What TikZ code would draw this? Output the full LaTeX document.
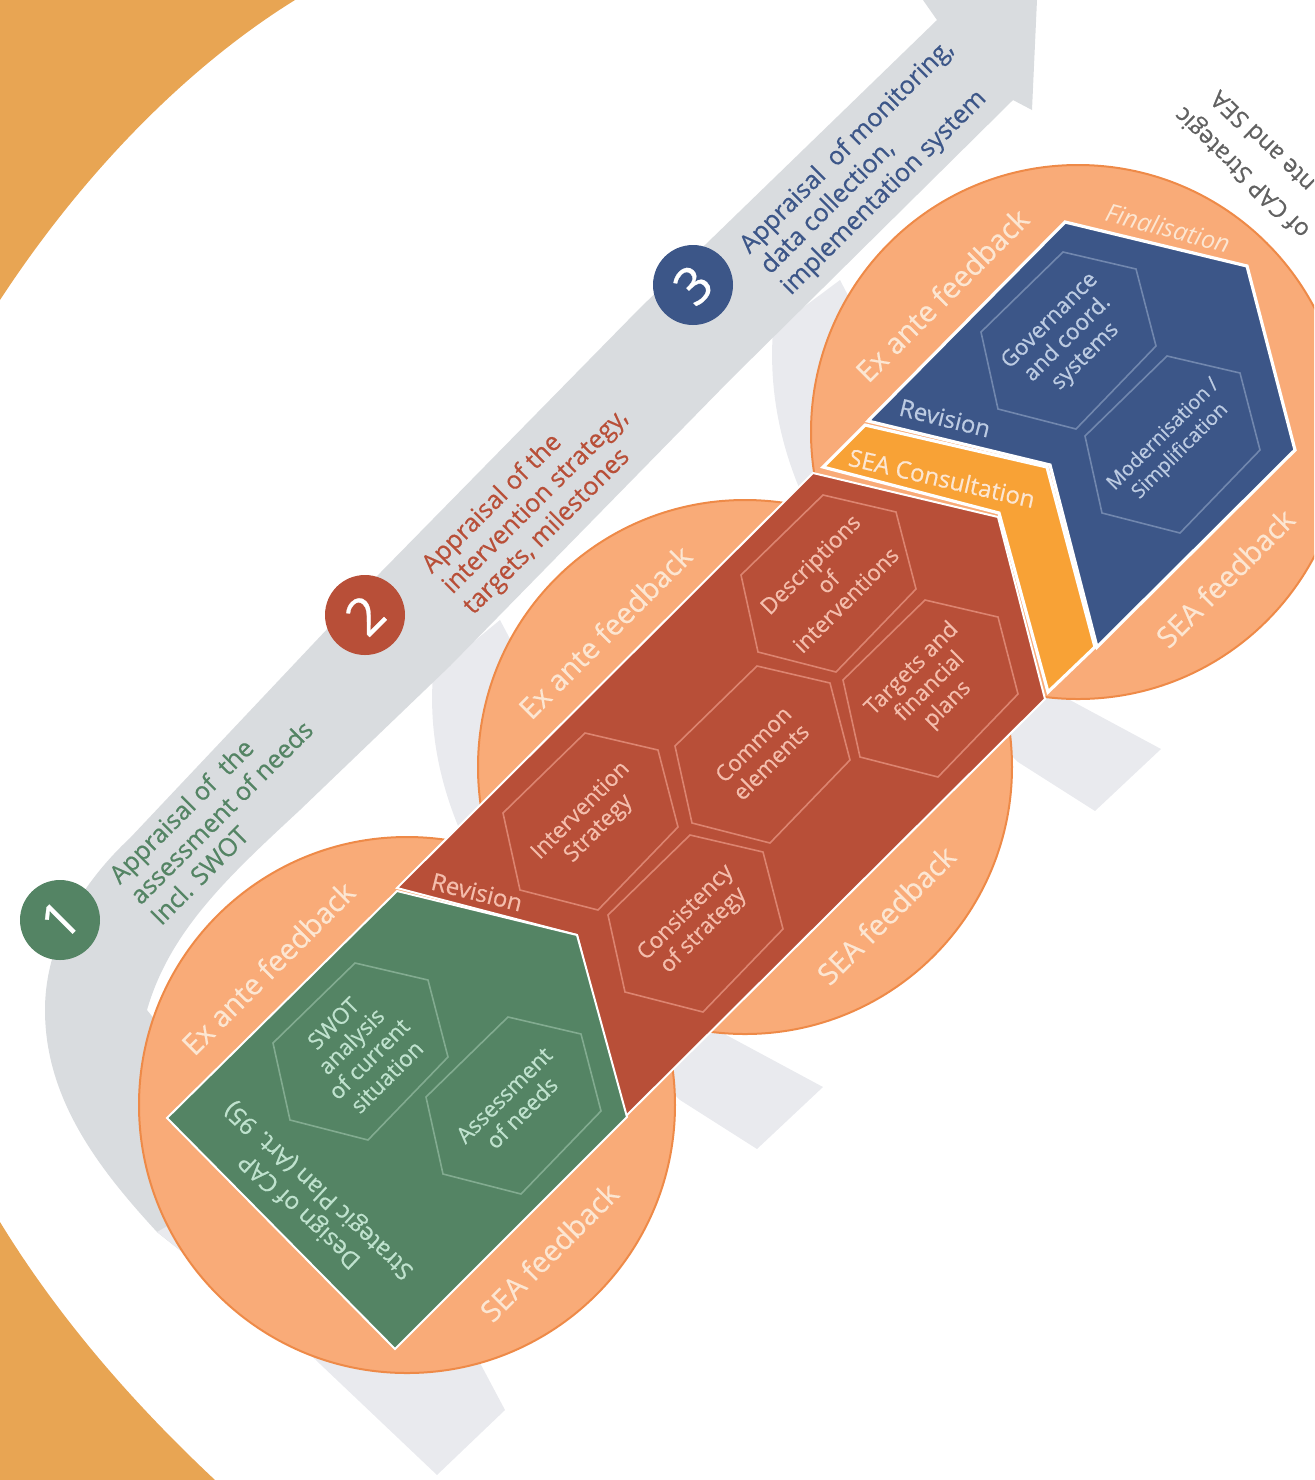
\documentclass[tikz,border=0pt]{standalone}
\usepackage{fontspec}
\setmainfont{Open Sans}
\newfontfamily\medf[FakeBold=0.5]{Open Sans}
\definecolor{bgor}{HTML}{E8A553}
\definecolor{band}{HTML}{D9DCDF}
\definecolor{bandl}{HTML}{E9EAEE}
\definecolor{circf}{HTML}{F9AB78}
\definecolor{circd}{HTML}{EE8A48}
\definecolor{grn}{HTML}{548464}
\definecolor{rd}{HTML}{B84F38}
\definecolor{blu}{HTML}{3C5688}
\definecolor{org}{HTML}{F8A236}
\definecolor{grnl}{HTML}{BFE2CE}
\definecolor{rdl}{HTML}{F4BDAC}
\definecolor{blul}{HTML}{BCCBE2}
\definecolor{grnh}{HTML}{82AB90}
\definecolor{rdh}{HTML}{DC8470}
\definecolor{bluh}{HTML}{7187AE}
\definecolor{feed}{HTML}{FCE6D2}
\tikzset{
  x=0.5pt,y=-0.5pt,
  poly/.style={draw=white,line width=1pt,line join=miter},
  circ/.style={fill=circf,draw=circd,line width=1pt},
  feedtxt/.style={text=feed,font=\fontsize{14.5}{17}\selectfont\medf,rotate=45,inner sep=0pt},
  hextxt/.style={font=\fontsize{11.2}{12.6}\selectfont\medf,rotate=45,align=center,inner sep=0pt},
  steptxt/.style={font=\fontsize{12.6}{14.6}\selectfont\medf,rotate=45,align=left,inner sep=0pt},
  badge/.style={circle,minimum size=40pt,inner sep=0pt,text=white,font=\fontsize{26}{26}\selectfont\medf},
  hexline/.style={line width=0.8pt,line join=miter},
  stagetxt/.style={inner sep=0pt,font=\fontsize{12}{14}\selectfont\medf},
}
\newcommand{\hexa}[6][]{%
  \coordinate (#2) at (#3);
  \draw[hexline,draw=#4] (#2) ++(-5,-87) -- ++(73,17) -- ++(20,77) -- ++(-80,83) -- ++(-78,-20) -- ++(-17,-77) -- cycle;
  \node[hextxt,text=#5,#1] (#2t) at (#2) {#6};
}
\begin{document}
\begin{tikzpicture}
\useasboundingbox (0,0) rectangle (1314,1480);
\begin{scope}
\clip (0,0) rectangle (1314,1480);
% orange background corners
\fill[bgor] (0,0) -- (295,0) .. controls (190,65) and (85,170) .. (0,300) -- cycle;
\fill[bgor] (0,1222) .. controls (60,1320) and (135,1405) .. (215,1480) -- (0,1480) -- cycle;
% secondary light arrows
\fill[bandl] (500,620) -- (433,675) .. controls (425,780) and (470,880) .. (560,985) -- (680,1100) -- (757,1149) -- (823,1087) -- (717,1030) -- cycle;
\fill[bandl] (840,280) -- (773,330) .. controls (765,440) and (810,540) .. (900,645) -- (1018,762) -- (1095,811) -- (1161,749) -- (1055,692) -- cycle;
% main band
\fill[band] (923,0) -- (1037,0) -- (1032,110) -- (1013,100) -- (730,380) -- (450,666) -- (300,810)
  .. controls (230,875) and (170,930) .. (147,1010) -- (300,1200) -- (230,1290) -- (157,1232)
  .. controls (100,1170) and (45,1100) .. (45,1010)
  .. controls (45,940) and (85,880) .. (130,838) -- (380,573) -- (640,308) -- (937,20) -- cycle;
\fill[bandl] (157,1232) -- (300,1345) -- (437,1475) -- (505,1410) -- (420,1250) -- (230,1190) -- cycle;
% circles
\draw[circ] (407,1105) circle[radius=268];
\draw[circ] (745,767) circle[radius=267];
\draw[circ] (1078,432) circle[radius=267];
% big shapes
\draw[poly,fill=rd] (397,888) -- (813,473) -- (998,517) -- (1045,699) -- (625,1117) -- (577,935) -- cycle;
\draw[poly,fill=org,line width=1.6pt] (823,467) -- (865,425) -- (1047,467) -- (1095,647) -- (1048,692) -- (999,513) -- cycle;
\draw[poly,fill=blu,line width=1.6pt] (868,421) -- (1065,222) -- (1247,266) -- (1295,450) -- (1097,647) -- (1050,465) -- cycle;
\draw[poly,fill=grn] (397,891) -- (577,935) -- (627,1117) -- (395,1349) -- (167,1118) -- cycle;
% hexagons
\hexa{hxa}{360,1050}{grnh}{grnl}{SWOT\\analysis\\of current\\situation}
\hexa{hxb}{513,1104}{grnh}{grnl}{Assessment\\of needs}
\hexa{hxc}{590,820}{rdh}{rdl}{Intervention\\Strategy}
\hexa{hxd}{762,753}{rdh}{rdl}{Common\\elements}
\hexa{hxe}{695,922}{rdh}{rdl}{Consistency\\of strategy}
\hexa{hxf}{828,582}{rdh}{rdl}{Descriptions\\of\\interventions}
\hexa{hxg}{930,687}{rdh}{rdl}{Targets and\\financial\\plans}
\hexa{hxh}{1068,339}{bluh}{blul}{Governance\\and coord.\\systems}
\hexa[font=\fontsize{10}{11.8}\selectfont\medf]{hxi}{1172,443}{bluh}{blul}{Modernisation /\\Simplification}
% feedback labels
\node[feedtxt] (exa) at (268,968) {Ex ante feedback};
\node[feedtxt] (exb) at (605,632) {Ex ante feedback};
\node[feedtxt] (exc) at (942,295) {Ex ante feedback};
\node[feedtxt] (sea) at (549,1252) {SEA feedback};
\node[feedtxt] (seb) at (886,915) {SEA feedback};
\node[feedtxt] (sec) at (1225,578) {SEA feedback};
% stage labels
\node[stagetxt,rotate=-14,text=rdl] (revr) at (477,892) {Revision};
\node[stagetxt,rotate=-14,text=blul] (revb) at (945,418) {Revision};
\node[stagetxt,rotate=-13,text=feed] (seacons) at (942,478) {SEA Consultation};
\node[rotate=-15,text=feed,inner sep=0pt,font=\fontsize{12.5}{15}\selectfont\itshape] (final) at (1168,228) {Finalisation};
\node[stagetxt,rotate=137,text=grnl,align=center] (design) at (310,1200) {Design of CAP\\Strategic Plan (Art. 95)};
% clipped text top right
\node[stagetxt,rotate=136,text=black!62] (tra) at (1243,172) {of CAP Strategic};
\node[stagetxt,rotate=136,text=black!62] (trb) at (1262,142) {nte and SEA};
% badges
\node[badge,fill=grn] (ba) at (60,920) {\rotatebox{45}{1}};
\node[badge,fill=rd] (bb) at (365,615) {\rotatebox{45}{2}};
\node[badge,fill=blu] (bc) at (693,285) {\rotatebox{45}{3}};
% step labels
\node[steptxt,text=grn] (sa) at (221,812) {Appraisal of\ \ the\\assessment of needs\\Incl. SWOT};
\node[steptxt,text=rd] (sb) at (536,502) {Appraisal of the\\intervention strategy,\\targets, milestones};
\node[steptxt,text=blu] (sc) at (868,168) {Appraisal\ \ of monitoring,\\data collection,\\implementation system};
\end{scope}
\end{tikzpicture}
\end{document}
